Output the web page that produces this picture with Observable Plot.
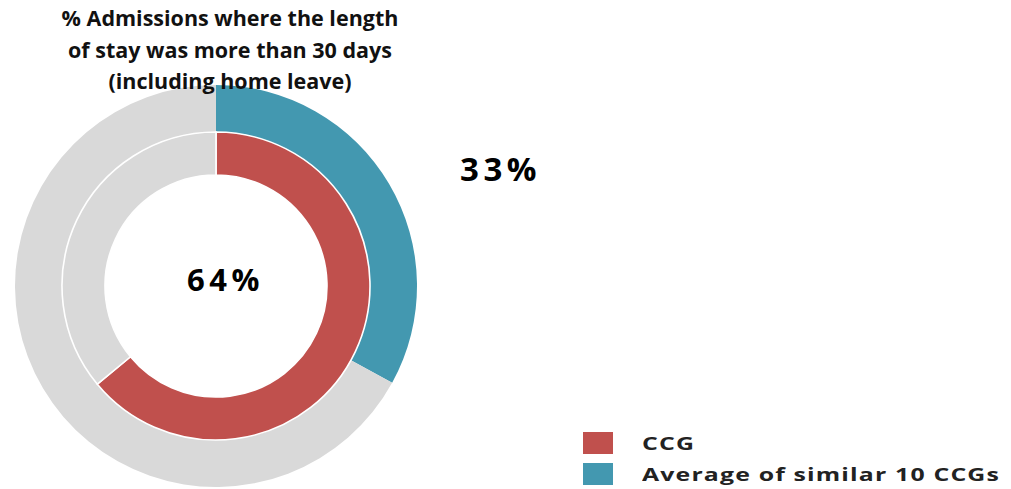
<!DOCTYPE html>
<html>
<head>
<meta charset="utf-8">
<script src="https://cdn.jsdelivr.net/npm/d3@7"></script>
<script src="https://cdn.jsdelivr.net/npm/@observablehq/plot@0.6"></script>
<style>
  html, body { margin: 0; padding: 0; background: #fff; }
  #wrap { position: relative; width: 1011px; height: 489px; overflow: hidden; font-family: "Open Sans", sans-serif; }
  #chart { position: absolute; left: 0; top: 0; }
  #chart svg text { letter-spacing: 4.5px; }
  #title { position: absolute; left: 30px; width: 400px; top: 2px; text-align: center; font-weight: 700; font-size: 21.5px; line-height: 31.5px; color: #111; }
  .leg { position: absolute; left: 583px; height: 22px; display: flex; align-items: center; }
  .sw { width: 30px; height: 22px; }
  .lt { margin-left: 29px; font-weight: 700; font-size: 17px; letter-spacing: 0.8px; color: #222; transform: scaleX(1.46); transform-origin: left center; white-space: nowrap; }
</style>
</head>
<body>
<div id="wrap">
  <div id="chart"></div>
  <div id="title"></div>
  <div id="legend"></div>
</div>
<script>
// Data
const title = ["% Admissions where the length", "of stay was more than 30 days", "(including home leave)"];
const series = ["CCG", "Average of similar 10 CCGs"];   // inner ring, outer ring
const percents = [64, 33];
const remainderName = "Remainder";
const colors = ["#c0504d", "#4398b0", "#d9d9d9"];

// Table for the rings
const rows = [];
series.forEach((s, i) => {
  rows.push({ring: i, series: s, start: 0, end: percents[i]});
  rows.push({ring: i, series: remainderName, start: percents[i], end: 100});
});
const labels = series.map((s, i) => ({ring: i, text: `${percents[i]}%`}));

const cx = 216, cy = 286;

const arcRender = (index, scales, values) => {
  const g = d3.create("svg:g").attr("transform", `translate(${cx},${cy})`);
  const arc = d3.arc();
  // draw outer ring first, inner ring on top so its white outline shows
  const order = Array.from(index).sort((a, b) => rows[b].ring - rows[a].ring);
  for (const i of order) {
    const inner = rows[i].ring === 0;
    g.append("path")
      .attr("d", arc({innerRadius: values.y1[i], outerRadius: values.y2[i], startAngle: values.x1[i], endAngle: values.x2[i]}))
      .attr("fill", values.fill[i])
      .attr("stroke", inner ? "#fff" : "none")
      .attr("stroke-width", inner ? 1.6 : 0);
  }
  return g.node();
};

const chart = Plot.plot({
  width: 1011,
  height: 489,
  margin: 0,
  x: {type: "linear", domain: [0, 100], range: [0, 2 * Math.PI], axis: null},
  y: {type: "linear", domain: [0, 1, 2], range: [111, 154, 201], axis: null},
  color: {domain: [...series, remainderName], range: colors},
  style: {fontFamily: "'Open Sans', sans-serif", background: "transparent"},
  marks: [
    Plot.rect(rows, {
      x1: "start", x2: "end",
      y1: d => d.ring, y2: d => d.ring + 1,
      fill: "series",
      render: arcRender
    }),
    Plot.text(labels.filter(d => d.ring === 0), {
      text: "text", frameAnchor: "top-left", textAnchor: "middle", lineAnchor: "middle",
      dx: 225, dy: 281,
      fontSize: 31, fontWeight: 700, fill: "#000"
    }),
    Plot.text(labels.filter(d => d.ring === 1), {
      text: "text", frameAnchor: "top-left", textAnchor: "middle", lineAnchor: "middle",
      dx: 500, dy: 170,
      fontSize: 33, fontWeight: 700, fill: "#000"
    })
  ]
});
document.getElementById("chart").appendChild(chart);

document.getElementById("title").innerHTML = title.join("<br>");

const legend = document.getElementById("legend");
const legTops = [432, 463];
series.forEach((s, i) => {
  const row = document.createElement("div");
  row.className = "leg";
  row.style.top = legTops[i] + "px";
  row.innerHTML = `<div class="sw" style="background:${colors[i]}"></div><span class="lt">${s}</span>`;
  legend.appendChild(row);
});
</script>
</body>
</html>
